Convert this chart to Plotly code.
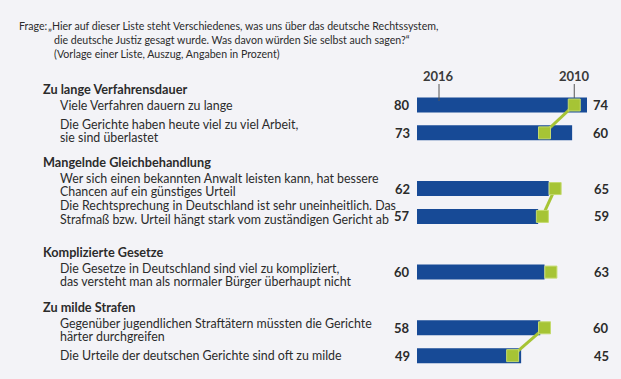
import plotly.graph_objects as go

# ---------------- data ----------------
group_titles = ["Zu lange Verfahrensdauer", "Mangelnde Gleichbehandlung",
                "Komplizierte Gesetze", "Zu milde Strafen"]
item_labels = [
    "Viele Verfahren dauern zu lange",
    "Die Gerichte haben heute viel zu viel Arbeit,\nsie sind überlastet",
    "Wer sich einen bekannten Anwalt leisten kann, hat bessere\nChancen auf ein günstiges Urteil",
    "Die Rechtsprechung in Deutschland ist sehr uneinheitlich. Das\nStrafmaß bzw. Urteil hängt stark vom zuständigen Gericht ab",
    "Die Gesetze in Deutschland sind viel zu kompliziert,\ndas versteht man als normaler Bürger überhaupt nicht",
    "Gegenüber jugendlichen Straftätern müssten die Gerichte\nhärter durchgreifen",
    "Die Urteile der deutschen Gerichte sind oft zu milde",
]
item_group = [0, 0, 1, 1, 2, 3, 3]
values_2016 = [80, 73, 62, 57, 60, 58, 49]
values_2010 = [74, 60, 65, 59, 63, 60, 45]
series_names = ["2016", "2010"]
frage_label = "Frage:"
frage_lines = [
    "„Hier auf dieser Liste steht Verschiedenes, was uns über das deutsche Rechtssystem,",
    "die deutsche Justiz gesagt wurde. Was davon würden Sie selbst auch sagen?“",
    "(Vorlage einer Liste, Auszug, Angaben in Prozent)",
]

# ---------------- layout constants ----------------
W, H = 621, 379
BG = "#f3f3f7"
BLUE = "#174a96"
GREEN = "#a6c435"
TXT = "#2b2b2b"
X0_PX, PX_PER_UNIT = 417, 2.125
ROW0_PX, ROW_PX = 105, 27.85
LINE_PX = 13.5
LABEL_SHIFT_PX = [0, -2, -3.5, -4, 3, 2, 0]   # vertical nudge of each label block (px, + = down)
ITEM_FONT = "Lato, 'Noto Sans', sans-serif"
FRAGE_FONT = "Lato, 'Liberation Sans', sans-serif"

# slot positions: one empty slot between groups
slots = [i + g for i, g in enumerate(item_group)]


def px_x(p):
    return p / W


def px_y(p):
    return 1 - p / H


fig = go.Figure()
fig.add_trace(go.Bar(
    x=values_2016, y=slots, orientation="h", width=15 / ROW_PX,
    marker=dict(color=BLUE, line=dict(width=0)), name=series_names[0],
    hoverinfo="skip",
))
for g in range(len(group_titles)):
    idx = [i for i, gg in enumerate(item_group) if gg == g]
    fig.add_trace(go.Scatter(
        x=[values_2010[i] for i in idx], y=[slots[i] for i in idx],
        mode="lines+markers",
        line=dict(color=GREEN, width=3),
        marker=dict(symbol="square", size=12, color=GREEN,
                    line=dict(color="#c4da6e", width=1)),
        name=series_names[1], hoverinfo="skip",
    ))

ann = []
# question text
FRAGE_Y = [25.5, 40, 54.5]
ann.append(dict(text=frage_label, xref="paper", yref="paper", x=px_x(17), y=px_y(FRAGE_Y[0]),
                xanchor="left", yanchor="middle", showarrow=False,
                font=dict(family=FRAGE_FONT, size=10.6, color=TXT)))
for k, line in enumerate(frage_lines):
    ann.append(dict(text=line, xref="paper", yref="paper",
                    x=px_x(46 if k == 0 else 52), y=px_y(FRAGE_Y[k]),
                    xanchor="left", yanchor="middle", showarrow=False,
                    font=dict(family=FRAGE_FONT, size=10.6, color=TXT)))

# item labels and values
first_line_shift = {}
for i, lab in enumerate(item_labels):
    lines = lab.split("\n")
    n = len(lines)
    for k, line in enumerate(lines):
        off = (k - (n - 1) / 2) * LINE_PX + LABEL_SHIFT_PX[i]
        if k == 0:
            first_line_shift[i] = off
        ann.append(dict(text=line, xref="paper", yref="y", x=px_x(58), y=slots[i],
                        yshift=-off, xanchor="left", yanchor="middle", showarrow=False,
                        font=dict(family=ITEM_FONT, size=12.4, color=TXT)))
    ann.append(dict(text=f"<b>{values_2016[i]}</b>", xref="x", yref="y", x=0, y=slots[i],
                    xshift=-5, xanchor="right", yanchor="middle", showarrow=False,
                    font=dict(family=ITEM_FONT, size=13, color=TXT)))
    ann.append(dict(text=f"<b>{values_2010[i]}</b>", xref="paper", yref="y", x=px_x(601),
                    y=slots[i], xanchor="center", yanchor="middle", showarrow=False,
                    font=dict(family=ITEM_FONT, size=13, color=TXT)))

# group headers, placed above the first line of their first item
for g, title in enumerate(group_titles):
    first = item_group.index(g)
    ann.append(dict(text=f"<b>{title}</b>", xref="paper", yref="y", x=px_x(41),
                    y=slots[first], yshift=-(first_line_shift[first] - 16.5),
                    xanchor="left", yanchor="middle", showarrow=False,
                    font=dict(family=ITEM_FONT, size=12.7, color=TXT)))

# series labels with pointer lines
ann.append(dict(text=f"<b>{series_names[0]}</b>", xref="paper", yref="paper", x=px_x(438),
                y=px_y(76), xanchor="center", yanchor="middle", showarrow=False,
                font=dict(family=ITEM_FONT, size=13, color="#3a3a3a")))
ann.append(dict(text=f"<b>{series_names[1]}</b>", xref="x", yref="paper", x=values_2010[0],
                y=px_y(76), xanchor="center", yanchor="middle", showarrow=False,
                font=dict(family=ITEM_FONT, size=13, color="#3a3a3a")))
shapes = [
    dict(type="line", xref="paper", yref="paper", x0=px_x(439), x1=px_x(439),
         y0=px_y(84), y1=px_y(101), line=dict(color="#555", width=1)),
    dict(type="line", xref="x", yref="paper", x0=values_2010[0], x1=values_2010[0],
         y0=px_y(84), y1=px_y(98), line=dict(color="#555", width=1)),
]

fig.update_layout(
    width=W, height=H, autosize=False,
    margin=dict(l=0, r=0, t=0, b=0, pad=0),
    paper_bgcolor=BG, plot_bgcolor=BG,
    showlegend=False, hovermode=False,
    annotations=ann, shapes=shapes,
    xaxis=dict(range=[-X0_PX / PX_PER_UNIT, (W - X0_PX) / PX_PER_UNIT], visible=False,
               fixedrange=True),
    yaxis=dict(range=[(H - ROW0_PX) / ROW_PX, -ROW0_PX / ROW_PX], visible=False,
               fixedrange=True),
)
fig.write_html(
    "out.html",
    config={"displayModeBar": False},
    post_script="document.body.style.margin='0';document.body.style.overflow='hidden';"
                "document.body.style.background='" + BG + "';",
)
